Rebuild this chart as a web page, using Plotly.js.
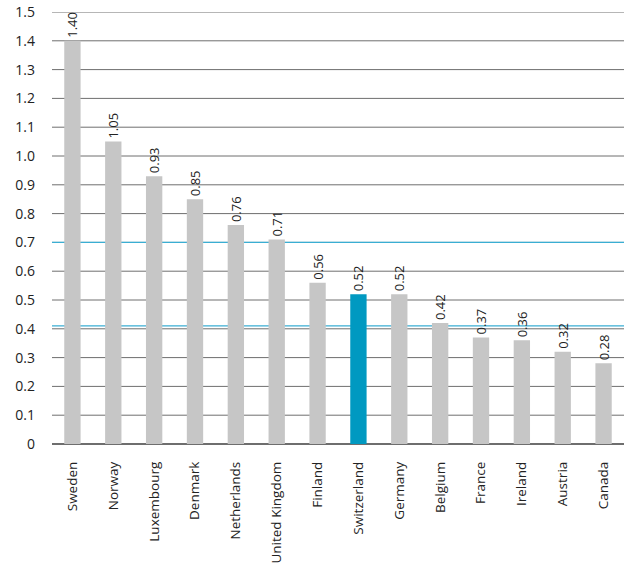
<!DOCTYPE html>
<html>
<head>
<meta charset="utf-8">
<script src="https://cdn.plot.ly/plotly-3.0.1.min.js"></script>
<style>
  html, body { margin: 0; padding: 0; background: #fff; }
  #chart { width: 624px; height: 564px; }
</style>
</head>
<body>
<div id="chart"></div>
<script>
let countries = ["Sweden", "Norway", "Luxembourg", "Denmark", "Netherlands", "United Kingdom",
    "Finland", "Switzerland", "Germany", "Belgium", "France", "Ireland", "Austria", "Canada"];
let values = [1.40, 1.05, 0.93, 0.85, 0.76, 0.71, 0.56, 0.52, 0.52, 0.42, 0.37, 0.36, 0.32, 0.28];
let highlight = "Switzerland";
let refLines = [0.7, 0.41];
let yTickVals = [0, 0.1, 0.2, 0.3, 0.4, 0.5, 0.6, 0.7, 0.8, 0.9, 1.0, 1.1, 1.2, 1.3, 1.4, 1.5];
let yTickText = ["0", "0.1", "0.2", "0.3", "0.4", "0.5", "0.6", "0.7", "0.8", "0.9",
    "1.0", "1.1", "1.2", "1.3", "1.4", "1.5"];

let barColors = countries.map(c => c === highlight ? "#0099c1" : "#c6c6c6");

let bars = {
    type: "bar",
    x: countries,
    y: values,
    marker: { color: barColors },
    text: values.map(v => v.toFixed(2)),
    textposition: "outside",
    textangle: -90,
    constraintext: "none",
    cliponaxis: false,
    textfont: { family: "Open Sans, sans-serif", size: 13, color: "#222" },
    hoverinfo: "x+y"
};

// grid lines drawn as shapes so the blue reference lines can sit on top of them
let gridShapes = yTickVals.filter(v => v > 0).map(v => ({
    type: "line",
    xref: "paper", x0: 0, x1: 1,
    yref: "y", y0: v, y1: v,
    line: { color: "#6e6e6e", width: 1 },
    layer: "below"
}));

let refShapes = refLines.map(v => ({
    type: "line",
    xref: "paper", x0: 0, x1: 1,
    yref: "y", y0: v, y1: v,
    line: { color: "#3aaed3", width: 1.3 },
    layer: "below"
}));

let layout = {
    width: 624,
    height: 564,
    margin: { l: 52, r: 0, t: 12, b: 120 },
    paper_bgcolor: "#fff",
    plot_bgcolor: "#fff",
    showlegend: false,
    bargap: 0.6,
    font: { family: "Open Sans, sans-serif", size: 14, color: "#222" },
    xaxis: {
        type: "category",
        tickangle: -90,
        ticks: "",
        ticklabelstandoff: 14,
        tickfont: { size: 13.5, color: "#222" },
        showgrid: false,
        showline: false,
        fixedrange: true
    },
    yaxis: {
        range: [0, 1.5],
        tickvals: yTickVals,
        ticktext: yTickText,
        ticks: "",
        ticklabelstandoff: 16,
        tickfont: { size: 14, color: "#222" },
        showgrid: false,
        zeroline: true,
        zerolinecolor: "#6e6e6e",
        zerolinewidth: 2,
        showline: false,
        fixedrange: true
    },
    shapes: gridShapes.concat(refShapes)
};

Plotly.newPlot("chart", [bars], layout, { displayModeBar: false, staticPlot: true });
</script>
</body>
</html>
